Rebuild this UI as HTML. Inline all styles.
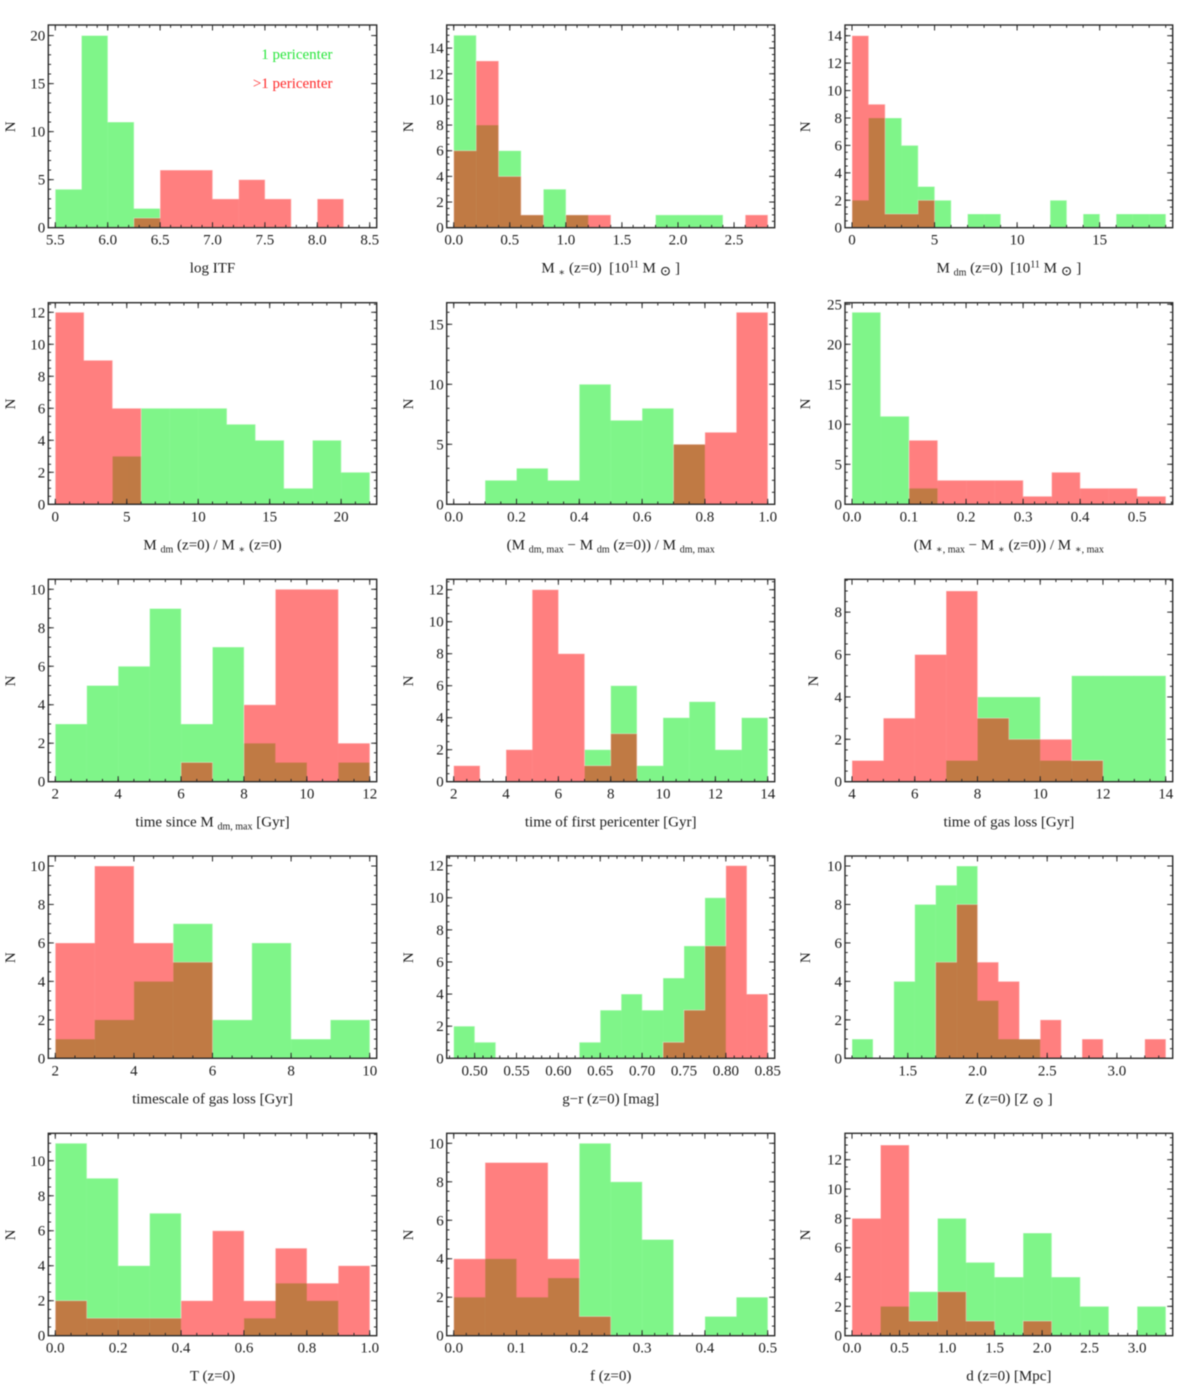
<!DOCTYPE html>
<html lang="en">
<head>
<meta charset="utf-8">
<title>Histograms by number of pericenters</title>
<style>
html,body{margin:0;padding:0;background:#fff;}
#figure{display:block;width:1200px;height:1385px;filter:blur(0.45px);}
text{font-family:"Liberation Serif","DejaVu Serif",serif;fill:#1c1c1c;}
</style>
</head>
<body>
<svg id="figure" xmlns="http://www.w3.org/2000/svg" width="1200" height="1385" viewBox="0 0 1200 1385"></svg>
<script>
// Panel 1: log ITF
const itfEdges = [5.5,5.75,6,6.25,6.5,6.75,7,7.25,7.5,7.75,8,8.25];
const itfGreen = [4,20,11,2,0,0,0,0,0,0,0];
const itfRed = [0,0,0,1,6,6,3,5,3,0,3];
const itfXTicks = ["5.5","6.0","6.5","7.0","7.5","8.0","8.5"];
const itfYTicks = ["0","5","10","15","20"];
// Panel 2: stellar mass
const mstarEdges = [0,0.2,0.4,0.6,0.8,1,1.2,1.4,1.6,1.8,2,2.2,2.4,2.6,2.8];
const mstarGreen = [15,8,6,1,3,1,0,0,0,1,1,1,0,0];
const mstarRed = [6,13,4,1,0,1,1,0,0,0,0,0,0,1];
const mstarXTicks = ["0.0","0.5","1.0","1.5","2.0","2.5"];
const mstarYTicks = ["0","2","4","6","8","10","12","14"];
// Panel 3: dark matter mass
const mdmEdges = [0,1,2,3,4,5,6,7,8,9,10,11,12,13,14,15,16,17,18,19];
const mdmGreen = [2,8,8,6,3,2,0,1,1,0,0,0,2,0,1,0,1,1,1];
const mdmRed = [14,9,1,1,2,0,0,0,0,0,0,0,0,0,0,0,0,0,0];
const mdmXTicks = ["0","5","10","15"];
const mdmYTicks = ["0","2","4","6","8","10","12","14"];
// Panel 4: dark matter to stellar ratio
const ratioEdges = [0,2,4,6,8,10,12,14,16,18,20,22];
const ratioGreen = [0,0,3,6,6,6,5,4,1,4,2];
const ratioRed = [12,9,6,0,0,0,0,0,0,0,0];
const ratioXTicks = ["0","5","10","15","20"];
const ratioYTicks = ["0","2","4","6","8","10","12"];
// Panel 5: dark matter loss fraction
const dmLossEdges = [0,0.1,0.2,0.3,0.4,0.5,0.6,0.7,0.8,0.9,1];
const dmLossGreen = [0,2,3,2,10,7,8,5,0,0];
const dmLossRed = [0,0,0,0,0,0,0,5,6,16];
const dmLossXTicks = ["0.0","0.2","0.4","0.6","0.8","1.0"];
const dmLossYTicks = ["0","5","10","15"];
// Panel 6: stellar loss fraction
const starLossEdges = [0,0.05,0.1,0.15,0.2,0.25,0.3,0.35,0.4,0.45,0.5,0.55];
const starLossGreen = [24,11,2,0,0,0,0,0,0,0,0];
const starLossRed = [0,0,8,3,3,3,1,4,2,2,1];
const starLossXTicks = ["0.0","0.1","0.2","0.3","0.4","0.5"];
const starLossYTicks = ["0","5","10","15","20","25"];
// Panel 7: time since peak dark matter mass
const tMaxEdges = [2,3,4,5,6,7,8,9,10,11,12];
const tMaxGreen = [3,5,6,9,3,7,2,1,0,1];
const tMaxRed = [0,0,0,0,1,0,4,10,10,2];
const tMaxXTicks = ["2","4","6","8","10","12"];
const tMaxYTicks = ["0","2","4","6","8","10"];
// Panel 8: time of first pericenter
const tPeriEdges = [2,3,4,5,6,7,8,9,10,11,12,13,14];
const tPeriGreen = [0,0,0,0,0,2,6,1,4,5,2,4];
const tPeriRed = [1,0,2,12,8,1,3,0,0,0,0,0];
const tPeriXTicks = ["2","4","6","8","10","12","14"];
const tPeriYTicks = ["0","2","4","6","8","10","12"];
// Panel 9: time of gas loss
const tGasEdges = [4,5,6,7,8,9,10,11,12,13,14];
const tGasGreen = [0,0,0,1,4,4,1,5,5,5];
const tGasRed = [1,3,6,9,3,2,2,1,0,0];
const tGasXTicks = ["4","6","8","10","12","14"];
const tGasYTicks = ["0","2","4","6","8"];
// Panel 10: timescale of gas loss
const gasScaleEdges = [2,3,4,5,6,7,8,9,10];
const gasScaleGreen = [1,2,4,7,2,6,1,2];
const gasScaleRed = [6,10,6,5,0,0,0,0];
const gasScaleXTicks = ["2","4","6","8","10"];
const gasScaleYTicks = ["0","2","4","6","8","10"];
// Panel 11: g-r colour
const colorEdges = [0.475,0.5,0.525,0.55,0.575,0.6,0.625,0.65,0.675,0.7,0.725,0.75,0.775,0.8,0.825,0.85];
const colorGreen = [2,1,0,0,0,0,1,3,4,3,5,7,10,0,0];
const colorRed = [0,0,0,0,0,0,0,0,0,0,1,3,7,12,4];
const colorXTicks = ["0.50","0.55","0.60","0.65","0.70","0.75","0.80","0.85"];
const colorYTicks = ["0","2","4","6","8","10","12"];
// Panel 12: metallicity
const metalEdges = [1.1,1.25,1.4,1.55,1.7,1.85,2,2.15,2.3,2.45,2.6,2.75,2.9,3.05,3.2,3.35];
const metalGreen = [1,0,4,8,9,10,3,1,1,0,0,0,0,0,0];
const metalRed = [0,0,0,0,5,8,5,4,1,2,0,1,0,0,1];
const metalXTicks = ["1.5","2.0","2.5","3.0"];
const metalYTicks = ["0","2","4","6","8","10"];
// Panel 13: T
const tParamEdges = [0,0.1,0.2,0.3,0.4,0.5,0.6,0.7,0.8,0.9,1];
const tParamGreen = [11,9,4,7,0,0,1,3,2,0];
const tParamRed = [2,1,1,1,2,6,2,5,3,4];
const tParamXTicks = ["0.0","0.2","0.4","0.6","0.8","1.0"];
const tParamYTicks = ["0","2","4","6","8","10"];
// Panel 14: f
const fParamEdges = [0,0.05,0.1,0.15,0.2,0.25,0.3,0.35,0.4,0.45,0.5];
const fParamGreen = [2,4,2,3,10,8,5,0,1,2];
const fParamRed = [4,9,9,4,1,0,0,0,0,0];
const fParamXTicks = ["0.0","0.1","0.2","0.3","0.4","0.5"];
const fParamYTicks = ["0","2","4","6","8","10"];
// Panel 15: distance
const distEdges = [0,0.3,0.6,0.9,1.2,1.5,1.8,2.1,2.4,2.7,3,3.3];
const distGreen = [0,2,3,8,5,4,7,4,2,0,2];
const distRed = [8,13,1,3,1,0,1,0,0,0,0];
const distXTicks = ["0.0","0.5","1.0","1.5","2.0","2.5","3.0"];
const distYTicks = ["0","2","4","6","8","10","12"];

const SVGNS = "http://www.w3.org/2000/svg";
const figure = document.getElementById("figure");
const colLeft = [48.3, 446.7, 845];
const colRight = [376.7, 774.7, 1172.7];
const rowTop = [25, 302.7, 579.3, 856, 1133.3];
const rowBottom = [227.7, 504.3, 781.7, 1058.3, 1335.7];
const titleGap = [33.5, 33.5, 35];
const PAD = 7;

const panels = [
 {id:"log-itf",edges:itfEdges,green:itfGreen,red:itfRed,xt:itfXTicks,yt:itfYTicks,dom:[5.5,8.5],ymax:21.1,xm:0.1,ym:1,label:"log ITF"},
 {id:"stellar-mass",edges:mstarEdges,green:mstarGreen,red:mstarRed,xt:mstarXTicks,yt:mstarYTicks,dom:[0,2.8],ymax:15.8,xm:0.1,ym:0.5,label:"M _{∗} (z=0)  [10^{11} M _{⊙} ]"},
 {id:"dm-mass",edges:mdmEdges,green:mdmGreen,red:mdmRed,xt:mdmXTicks,yt:mdmYTicks,dom:[0,19],ymax:14.78,xm:1,ym:0.5,label:"M _{dm} (z=0)  [10^{11} M _{⊙} ]"},
 {id:"dm-stellar-ratio",edges:ratioEdges,green:ratioGreen,red:ratioRed,xt:ratioXTicks,yt:ratioYTicks,dom:[0,22],ymax:12.6,xm:1,ym:0.5,label:"M _{dm} (z=0) / M _{∗} (z=0)"},
 {id:"dm-loss-fraction",edges:dmLossEdges,green:dmLossGreen,red:dmLossRed,xt:dmLossXTicks,yt:dmLossYTicks,dom:[0,1],ymax:16.8,xm:0.05,ym:1,label:"(M _{dm, max} − M _{dm} (z=0)) / M _{dm, max}"},
 {id:"stellar-loss-fraction",edges:starLossEdges,green:starLossGreen,red:starLossRed,xt:starLossXTicks,yt:starLossYTicks,dom:[0,0.55],ymax:25.2,xm:0.02,ym:1,label:"(M _{∗, max} − M _{∗} (z=0)) / M _{∗, max}"},
 {id:"time-since-max",edges:tMaxEdges,green:tMaxGreen,red:tMaxRed,xt:tMaxXTicks,yt:tMaxYTicks,dom:[2,12],ymax:10.52,xm:0.5,ym:0.5,label:"time since M _{dm, max} [Gyr]"},
 {id:"first-pericenter-time",edges:tPeriEdges,green:tPeriGreen,red:tPeriRed,xt:tPeriXTicks,yt:tPeriYTicks,dom:[2,14],ymax:12.65,xm:0.5,ym:0.5,label:"time of first pericenter [Gyr]"},
 {id:"gas-loss-time",edges:tGasEdges,green:tGasGreen,red:tGasRed,xt:tGasXTicks,yt:tGasYTicks,dom:[4,14],ymax:9.55,xm:0.5,ym:0.5,gap:27,label:"time of gas loss [Gyr]"},
 {id:"gas-loss-timescale",edges:gasScaleEdges,green:gasScaleGreen,red:gasScaleRed,xt:gasScaleXTicks,yt:gasScaleYTicks,dom:[2,10],ymax:10.52,xm:0.5,ym:0.5,label:"timescale of gas loss [Gyr]"},
 {id:"g-r-colour",edges:colorEdges,green:colorGreen,red:colorRed,xt:colorXTicks,yt:colorYTicks,dom:[0.475,0.85],ymax:12.6,xm:0.01,ym:0.5,label:"g−r (z=0) [mag]"},
 {id:"metallicity",edges:metalEdges,green:metalGreen,red:metalRed,xt:metalXTicks,yt:metalYTicks,dom:[1.1,3.35],ymax:10.52,xm:0.1,ym:0.5,label:"Z (z=0) [Z _{⊙} ]"},
 {id:"t-parameter",edges:tParamEdges,green:tParamGreen,red:tParamRed,xt:tParamXTicks,yt:tParamYTicks,dom:[0,1],ymax:11.57,xm:0.05,ym:0.5,label:"T (z=0)"},
 {id:"f-parameter",edges:fParamEdges,green:fParamGreen,red:fParamRed,xt:fParamXTicks,yt:fParamYTicks,dom:[0,0.5],ymax:10.52,xm:0.02,ym:0.5,label:"f (z=0)"},
 {id:"distance",edges:distEdges,green:distGreen,red:distRed,xt:distXTicks,yt:distYTicks,dom:[0,3.3],ymax:13.8,xm:0.1,ym:0.5,label:"d (z=0) [Mpc]"}
];

function make(tag, parent, attrs) {
  const el = document.createElementNS(SVGNS, tag);
  for (const k in attrs) el.setAttribute(k, attrs[k]);
  parent.appendChild(el);
  return el;
}

function fillRich(textEl, str) {
  const re = /([_^])\{([^}]*)\}/g;
  let last = 0, m, shift = 0;
  function add(t, dy, small) {
    if (!t) return;
    const a = {};
    if (dy) a.dy = dy;
    if (small) a["font-size"] = small;
    make("tspan", textEl, a).textContent = t;
  }
  while ((m = re.exec(str))) {
    add(str.slice(last, m.index), -shift, 0);
    shift = m[1] === "_" ? 3 : -5;
    add(m[2], shift, m[2] === "⊙" ? 14 : 10);
    last = re.lastIndex;
  }
  add(str.slice(last), -shift, 0);
}

function stepOutline(values, edges, xScale, yScale) {
  let d = "", open = false;
  values.forEach((v, i) => {
    if (v > 0) {
      if (!open) d += "M" + xScale(edges[i]) + " " + yScale(0);
      d += "L" + xScale(edges[i]) + " " + yScale(v) + "L" + xScale(edges[i + 1]) + " " + yScale(v);
      open = true;
    } else if (open) {
      d += "L" + xScale(edges[i]) + " " + yScale(0);
      open = false;
    }
  });
  if (open) d += "L" + xScale(edges[values.length]) + " " + yScale(0);
  return d;
}

function drawPanel(p, idx) {
  const col = idx % 3, row = Math.floor(idx / 3);
  const L = colLeft[col], R = colRight[col], T = rowTop[row], B = rowBottom[row];
  const xScale = v => L + PAD + (v - p.dom[0]) / (p.dom[1] - p.dom[0]) * (R - L - 2 * PAD);
  const yScale = v => B - v / p.ymax * (B - T);

  const g = make("g", figure, {});
  
  

  const greenG = make("g", g, {fill: "rgb(0,235,20)", opacity: 0.5});
  
  
  const greenEdge = make("path", g, {fill: "none", stroke: "rgba(255,255,255,0.4)", "stroke-width": 0.9, d: stepOutline(p.green, p.edges, xScale, yScale)});
  
  
  const redG = make("g", g, {fill: "rgb(255,0,0)", opacity: 0.5});
  
  
  const redEdge = make("path", g, {fill: "none", stroke: "rgba(255,255,255,0.4)", "stroke-width": 0.9, d: stepOutline(p.red, p.edges, xScale, yScale)});
  
  

  p.green.forEach((v, i) => {
    if (!v) return;
    const r = make("rect", greenG, {x: xScale(p.edges[i]), y: yScale(v), width: xScale(p.edges[i + 1]) - xScale(p.edges[i]) + 0.2, height: yScale(0) - yScale(v)});
    
    
  });
  p.red.forEach((v, i) => {
    if (!v) return;
    const r = make("rect", redG, {x: xScale(p.edges[i]), y: yScale(v), width: xScale(p.edges[i + 1]) - xScale(p.edges[i]) + 0.2, height: yScale(0) - yScale(v)});
    
    
  });

  const tickG = make("g", g, {stroke: "#2a2a2a", "stroke-width": 1, fill: "none"});
  
  
  function vTick(x, len) {
    make("line", tickG, {x1: x, x2: x, y1: B, y2: B - len});
    make("line", tickG, {x1: x, x2: x, y1: T, y2: T + len});
  }
  function hTick(y, len) {
    make("line", tickG, {x1: L, x2: L + len, y1: y, y2: y});
    make("line", tickG, {x1: R, x2: R - len, y1: y, y2: y});
  }
  const firstX = Math.ceil((p.dom[0] - 0.05) / p.xm - 1e-6);
  for (let k = firstX; ; k++) {
    const px = xScale(k * p.xm);
    if (px > R - 1) break;
    if (px > L + 1) vTick(px, 2.8);
  }
  for (let k = 0; ; k++) {
    const py = yScale(k * p.ym);
    if (py < T + 1) break;
    if (k > 0) hTick(py, 2.8);
  }

  p.xt.forEach(label => {
    const px = xScale(parseFloat(label));
    vTick(px, 5.5);
    const t = make("text", g, {x: px, y: B + 17, "text-anchor": "middle", "font-size": 15});
    
    
    t.textContent = label;
  });
  p.yt.forEach(label => {
    const py = yScale(parseFloat(label));
    if (parseFloat(label) > 0) hTick(py, 5.5);
    const t = make("text", g, {x: L - 3, y: py + 5, "text-anchor": "end", "font-size": 15});
    
    
    t.textContent = label;
  });

  const frame = make("rect", g, {x: L, y: T, width: R - L, height: B - T, fill: "none", stroke: "#2a2a2a", "stroke-width": 1.4});
  
  

  const xt = make("text", g, {x: (L + R) / 2, y: B + 45, "text-anchor": "middle", "font-size": 15, style: "white-space:pre"});
  
  
  fillRich(xt, p.label);

  const yMid = (T + B) / 2 + 0.5;
  const yGap = p.gap || titleGap[col];
  const yt = make("text", g, {x: 0, y: 0, "text-anchor": "middle", "font-size": 15, transform: "translate(" + (L - yGap) + " " + yMid + ") rotate(-90)"});
  
  
  yt.textContent = "N";
}

panels.forEach(drawPanel);

const legendGreen = make("text", figure, {x: 332.5, y: 59, "text-anchor": "end", "font-size": 15, style: "fill:#2ae63c"});


legendGreen.textContent = "1 pericenter";
const legendRed = make("text", figure, {x: 332.5, y: 88, "text-anchor": "end", "font-size": 15, style: "fill:#ff2a2a"});


legendRed.textContent = ">1 pericenter";
</script>
</body>
</html>
